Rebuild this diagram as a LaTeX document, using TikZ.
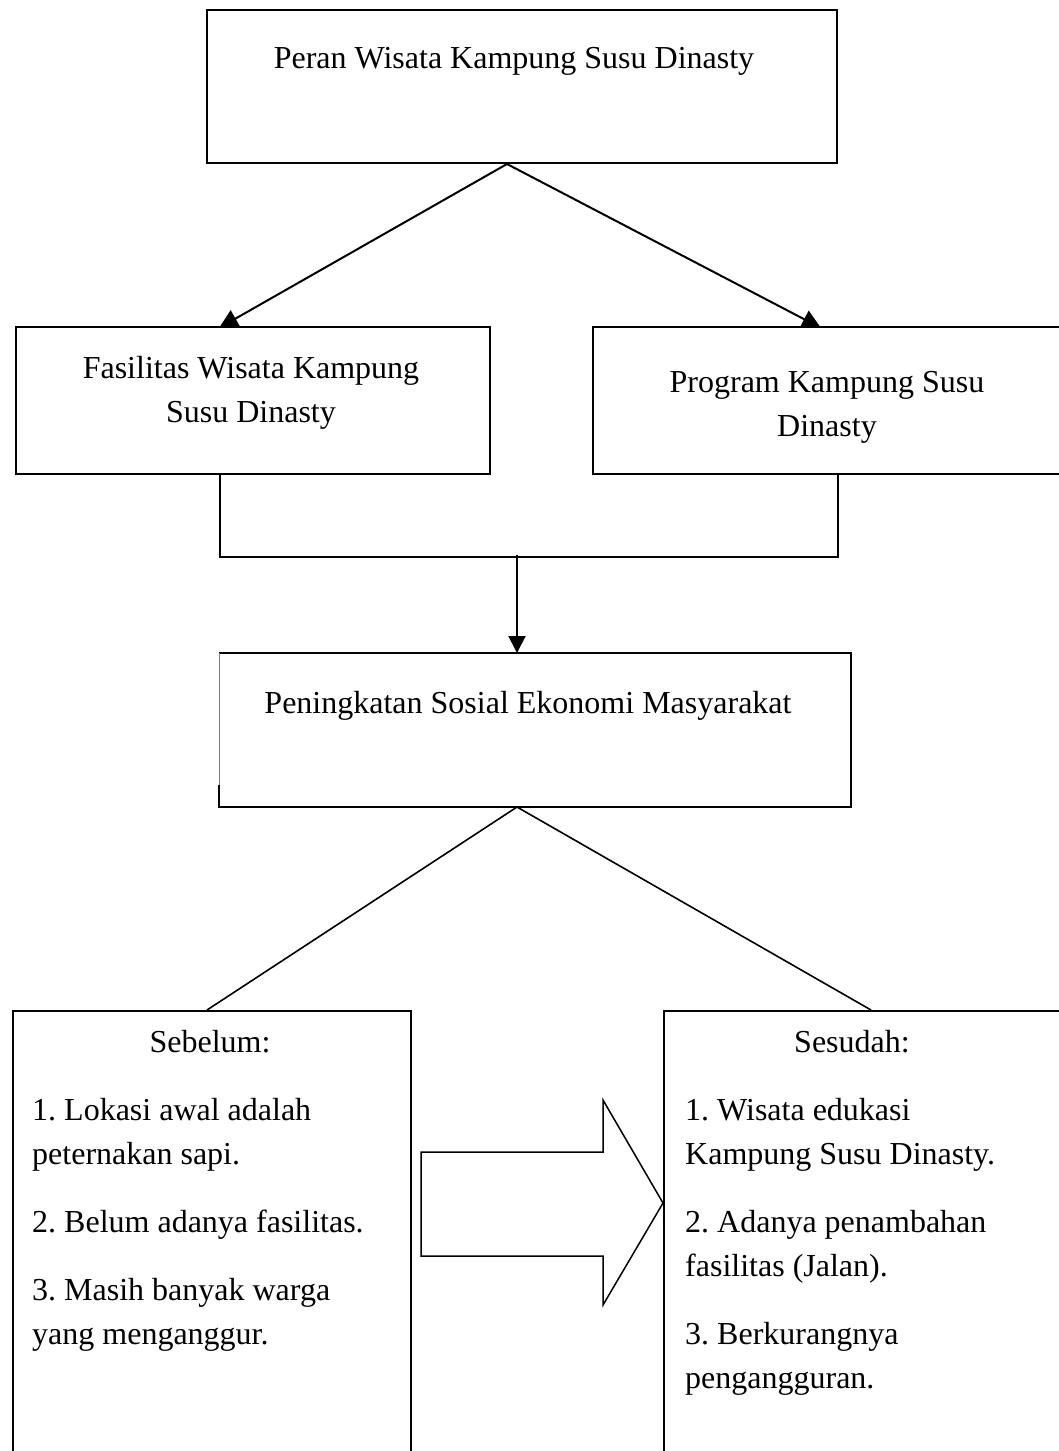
\documentclass[tikz,border=0pt]{standalone}
\usepackage{fontspec}
\setmainfont{Liberation Serif}
\usetikzlibrary{arrows.meta,calc,backgrounds}
\begin{document}
\frenchspacing
\begin{tikzpicture}[x=1pt,y=-1pt,
  box/.style={draw=black, line width=2pt, fill=white, inner sep=0pt, anchor=north west},
  conn/.style={line width=2pt},
  thin conn/.style={line width=1.6pt},
  arr/.style={conn, -{Triangle[width=17pt,length=17pt]}},
  bigarr/.style={conn, -{Triangle[width=19pt,length=19pt]}},
  txt/.style={font=\fontsize{32}{44}\selectfont, inner sep=0pt},
]
\useasboundingbox (0,0) rectangle (1059,1451);
\clip (0,0) rectangle (1059,1451);

% boxes
\node[box, minimum width=630, minimum height=153] (top) at (206,9) {};
\node[box, minimum width=474, minimum height=147] (fl) at (15,326) {};
\node[box, minimum width=500, minimum height=147] (pr) at (592,326) {};
\node[box, draw=none, minimum width=630, minimum height=152] (mid) at (219,653) {};
\draw[line width=2pt] ($(mid.south west)+(0,-22)$) -- (mid.south west) -- (mid.south east) -- (mid.north east) -- (mid.north west);
\draw[gray, line width=1pt] (mid.north west) -- ($(mid.south west)+(0,-22)$);
\node[box, minimum width=398, minimum height=500] (bl) at (12,1010) {};
\node[box, minimum width=450, minimum height=500] (br) at (663,1010) {};

% texts
\node[txt, anchor=base] (t0) at (514,68) {Peran Wisata Kampung Susu Dinasty};
\node[txt, anchor=base] (t1) at (251,378) {\begin{tabular}[t]{@{}c@{}}Fasilitas Wisata Kampung\\Susu Dinasty\end{tabular}};
\node[txt, anchor=base] (t2) at (827,392) {\begin{tabular}[t]{@{}c@{}}Program Kampung Susu\\Dinasty\end{tabular}};
\node[txt, anchor=base] (t3) at (528,713) {Peningkatan Sosial Ekonomi Masyarakat};
\node[txt, anchor=base] (t4) at (210,1052) {Sebelum:};
\node[txt, anchor=base] (t5) at (852,1052) {Sesudah:};
\node[txt, anchor=base west] (t6) at (32,1120) {\begin{tabular}[t]{@{}l@{}}1. Lokasi awal adalah\\peternakan sapi.\\[24pt]2. Belum adanya fasilitas.\\[24pt]3. Masih banyak warga\\yang menganggur.\end{tabular}};
\node[txt, anchor=base west] (t7) at (685,1120) {\begin{tabular}[t]{@{}l@{}}1. Wisata edukasi\\Kampung Susu Dinasty.\\[24pt]2. Adanya penambahan\\fasilitas (Jalan).\\[24pt]3. Berkurangnya\\pengangguran.\end{tabular}};

% connector points
\coordinate (apex) at ($(top.south west)+(301,0)$);
\coordinate (tipL) at ($(fl.north west)+(204,2)$);
\coordinate (tipR) at ($(pr.north west)+(229,2)$);
\coordinate (b1) at ($(fl.south west)+(205,0)$);
\coordinate (b2) at ($(fl.south west)+(205,82)$);
\coordinate (b4) at ($(pr.south west)+(246,0)$);
\coordinate (b3) at ($(pr.south west)+(246,82)$);
\coordinate (bm) at ($(mid.north west)+(298,-98)$);
\coordinate (tipM) at ($(mid.north west)+(298,0)$);
\coordinate (apex2) at ($(mid.south west)+(298,0)$);
\coordinate (eL) at ($(bl.north west)+(195,0)$);
\coordinate (eR) at ($(br.north west)+(208,0)$);

\begin{pgfonlayer}{background}
\fill[white] (0,0) rectangle (1059,1451);
\draw[bigarr] (apex) -- (tipL);
\draw[bigarr] (apex) -- (tipR);
\draw[conn] (b1) -- (b2) -- (b3) -- (b4);
\draw[arr] (bm) -- (tipM);
\draw[thin conn] (apex2) -- (eL);
\draw[thin conn] (apex2) -- (eR);
\end{pgfonlayer}

% block arrow
\draw[line width=1.5pt, fill=white, line join=miter]
  (421,1152) -- (603,1152) -- (603,1100) -- ($(br.north west)+(0,193)$) -- (603,1305) -- (603,1256) -- (421,1256) -- cycle;
\end{tikzpicture}
\end{document}
